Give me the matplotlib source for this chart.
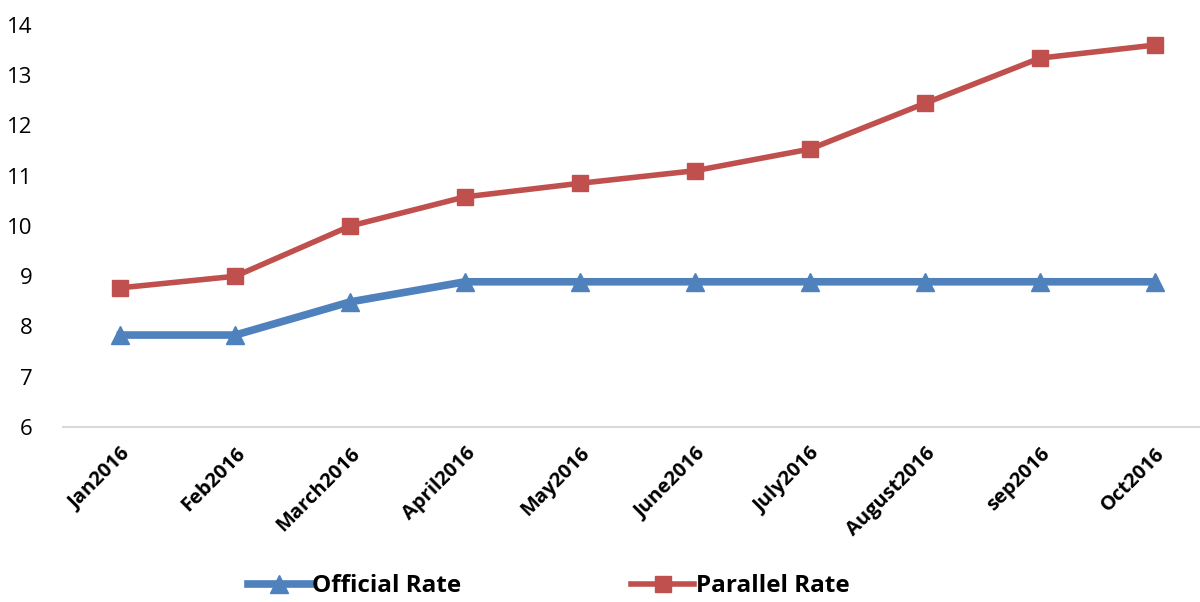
import matplotlib.pyplot as plt

plt.rcParams["font.family"] = ["Open Sans", "DejaVu Sans"]

months = ["Jan2016", "Feb2016", "March2016", "April2016", "May2016",
          "June2016", "July2016", "August2016", "sep2016", "Oct2016"]
official_rate = [7.83, 7.83, 8.49, 8.89, 8.89, 8.89, 8.89, 8.89, 8.89, 8.89]
parallel_rate = [8.77, 9.0, 10.0, 10.58, 10.85, 11.1, 11.53, 12.44, 13.34, 13.6]

BLUE = "#4F81BD"
RED = "#C0504D"

fig = plt.figure(figsize=(12, 6.02), dpi=100)
ax = fig.add_axes([63 / 1200, 175 / 602, 1149 / 1200, 402 / 602])

x = range(len(months))
ax.plot(x, official_rate, color=BLUE, lw=5.5, marker="^", ms=13,
        label="Official Rate", solid_joinstyle="round")
ax.plot(x, parallel_rate, color=RED, lw=4, marker="s", ms=12,
        label="Parallel Rate", solid_joinstyle="round")

ax.set_xlim(-0.5, len(months) - 0.5)
ax.set_ylim(6, 14)
ax.set_yticks(range(6, 15))
ax.tick_params(axis="y", length=0, labelsize=16, pad=22)
ax.tick_params(axis="x", length=0, pad=12)
ax.set_xticks(list(x))
ax.set_xticklabels(months, rotation=45, ha="right", rotation_mode="anchor",
                   fontsize=14.5, fontweight="bold")

for side in ("top", "right", "left"):
    ax.spines[side].set_visible(False)
ax.spines["bottom"].set_color("#d9d9d9")
ax.spines["bottom"].set_linewidth(1.5)

leg = fig.legend(loc="lower center", bbox_to_anchor=(0.457, -0.03), ncol=2,
                 frameon=False, prop={"weight": "bold", "size": 17.5},
                 columnspacing=7, handlelength=2.6, handletextpad=0.05)

fig.savefig("out.png", dpi=100)
